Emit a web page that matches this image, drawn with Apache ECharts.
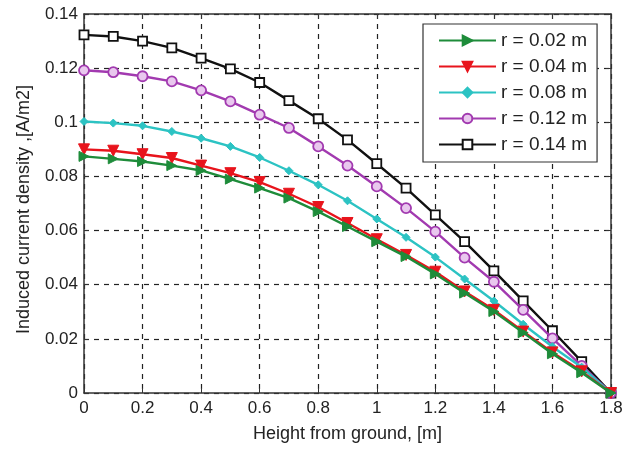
<!DOCTYPE html>
<html><head><meta charset="utf-8">
<script src="https://cdn.jsdelivr.net/npm/echarts@6/dist/echarts.min.js"></script>
<style>html,body{margin:0;padding:0;background:#fff}#c{width:635px;height:450px}</style>
</head><body><div id="c"></div>
<script>
const heights = [0,0.1,0.2,0.3,0.4,0.5,0.6,0.7,0.8,0.9,1.0,1.1,1.2,1.3,1.4,1.5,1.6,1.7,1.8];
const seriesNames = ['r = 0.02 m','r = 0.04 m','r = 0.08 m','r = 0.12 m','r = 0.14 m'];
const r002 = [0.0874,0.0865,0.0855,0.0840,0.0822,0.0790,0.0757,0.0720,0.0670,0.0615,0.0559,0.0504,0.0440,0.0369,0.0301,0.0223,0.0145,0.0075,0];
const r004 = [0.0900,0.0895,0.0882,0.0868,0.0840,0.0812,0.0779,0.0736,0.0687,0.0628,0.0568,0.0510,0.0448,0.0375,0.0307,0.0227,0.0150,0.0080,0];
const r008 = [0.1003,0.0997,0.0987,0.0966,0.0941,0.0911,0.0870,0.0821,0.0769,0.0710,0.0643,0.0575,0.0502,0.0421,0.0340,0.0254,0.0171,0.0095,0];
const r012 = [0.1192,0.1185,0.1170,0.1151,0.1118,0.1077,0.1028,0.0979,0.0911,0.0840,0.0763,0.0683,0.0596,0.0500,0.0411,0.0307,0.0202,0.0100,0];
const r014 = [0.1323,0.1317,0.1300,0.1275,0.1237,0.1197,0.1147,0.1080,0.1013,0.0935,0.0847,0.0757,0.0658,0.0559,0.0451,0.0340,0.0230,0.0116,0];
const xTicks = [0,0.2,0.4,0.6,0.8,1,1.2,1.4,1.6,1.8];
const yTicks = [0,0.02,0.04,0.06,0.08,0.1,0.12,0.14];

const colors = ['#1e8c3a','#e8141c','#2cc3c3','#a23ab0','#111111'];
const symbols = ['triangle','triangle','diamond','circle','rect'];
const rotates = [-90,180,0,0,0];
const sizes = [10,11,8,10,9];
const fills = ['#1e8c3a','#e8141c','#2cc3c3','#e9c8ee','#ffffff'];
const values = [r002,r004,r008,r012,r014];

const font = 'Liberation Sans, Arial, sans-serif';
const chart = echarts.init(document.getElementById('c'), null, {renderer:'canvas'});
const gridLine = {show:true, lineStyle:{color:'#222', type:[5,5], width:1.2}};
const baseAxis = (min,max,interval) => ({
  type:'value', min, max, interval,
  axisLine:{show:true, onZero:false, lineStyle:{color:'#333', width:1.5}},
  axisTick:{show:true, inside:true, length:5, lineStyle:{color:'#333'}},
  splitLine:{show:false}
});
chart.setOption({
  animation:false,
  backgroundColor:'#fff',
  grid:{left:84, right:24, top:14, bottom:57},
  xAxis:[
    Object.assign(baseAxis(0,1.8,0.2), {
      position:'bottom',
      splitLine:gridLine,
      axisLabel:{color:'#222', fontSize:17, fontFamily:font, margin:7,
        formatter:v=>xTicks.includes(Math.round(v*10)/10)?String(Math.round(v*10)/10):''},
      name:'Height from ground, [m]', nameLocation:'middle', nameGap:32,
      nameTextStyle:{color:'#222', fontSize:18, fontFamily:font}
    }),
    Object.assign(baseAxis(0,1.8,0.2), {position:'top', axisLabel:{show:false}})
  ],
  yAxis:[
    Object.assign(baseAxis(0,0.14,0.02), {
      position:'left',
      splitLine:gridLine,
      axisLabel:{color:'#222', fontSize:17, fontFamily:font, margin:6,
        formatter:v=>String(Math.round(v*100)/100)},
      name:'Induced current density ,[A/m2]', nameLocation:'middle', nameGap:51, nameRotate:90,
      nameTextStyle:{color:'#222', fontSize:18, fontFamily:font, padding:[0,12,0,0]}
    }),
    Object.assign(baseAxis(0,0.14,0.02), {position:'right', axisLabel:{show:false}})
  ],
  legend:{
    orient:'vertical', left:423, top:24,
    backgroundColor:'#fff', borderColor:'#333', borderWidth:1.2, borderRadius:0,
    padding:[7,10,8,15], itemGap:7, itemWidth:57, itemHeight:12,
    textStyle:{color:'#222', fontSize:19, fontFamily:font, lineHeight:19},
    data:seriesNames
  },
  series: seriesNames.map((n,i)=>({
    name:n, type:'line',
    data: heights.map((h,j)=>[h, values[i][j]]),
    symbol:symbols[i], symbolRotate:rotates[i], symbolSize:sizes[i], showAllSymbol:true,
    lineStyle:{color:colors[i], width:2.4},
    itemStyle:{color:fills[i], borderColor:colors[i], borderWidth:(i>=3?1.8:1)},
    z: 10-i
  }))
});
</script></body></html>
